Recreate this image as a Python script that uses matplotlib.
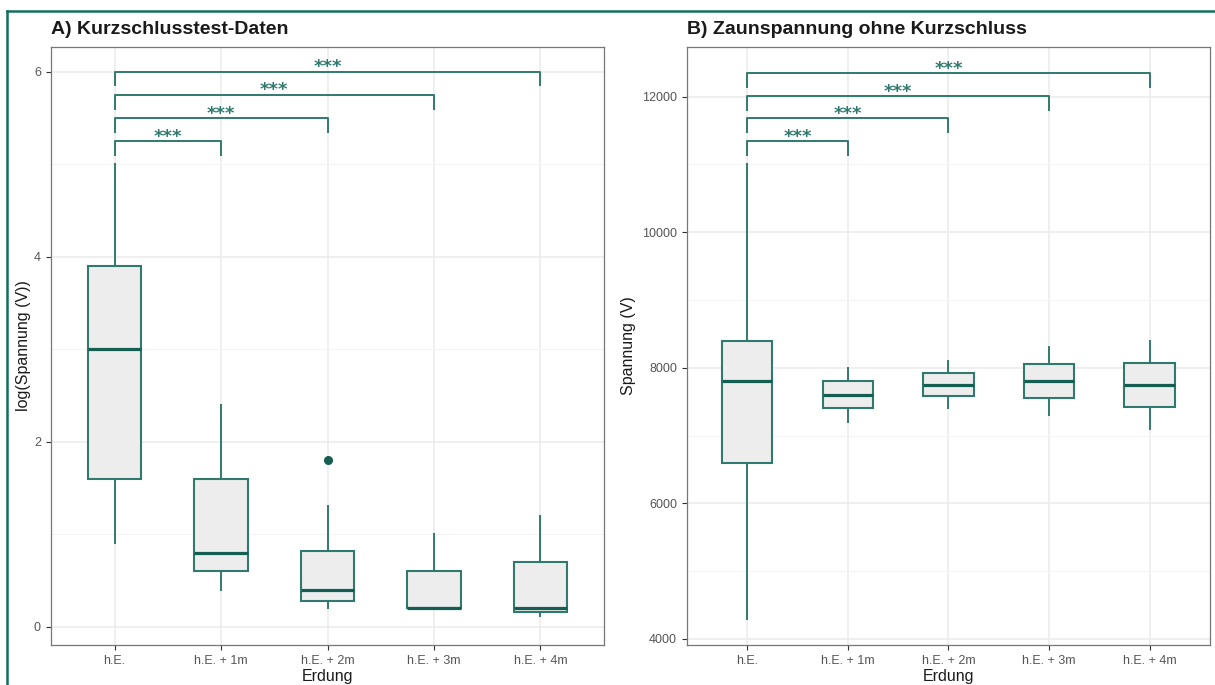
import matplotlib
matplotlib.use("Agg")
import matplotlib.pyplot as plt
from matplotlib.lines import Line2D

plt.rcParams['font.family'] = ['Liberation Sans', 'DejaVu Sans']

# Gruppen (Erdung)
gruppen = ["h.E.", "h.E. + 1m", "h.E. + 2m", "h.E. + 3m", "h.E. + 4m"]

# A) Kurzschlusstest, log(Spannung)
a_whislo = [0.9, 0.4, 0.2, 0.2, 0.11]
a_q1 = [1.6, 0.6, 0.28, 0.2, 0.155]
a_med = [3.0, 0.8, 0.4, 0.2, 0.2]
a_q3 = [3.9, 1.6, 0.82, 0.6, 0.7]
a_whishi = [5.0, 2.4, 1.3, 1.0, 1.2]
a_fliers = [[], [], [1.8], [], []]

# B) Zaunspannung ohne Kurzschluss
b_whislo = [4300, 7200, 7400, 7300, 7100]
b_q1 = [6600, 7400, 7580, 7550, 7425]
b_med = [7800, 7600, 7750, 7800, 7750]
b_q3 = [8400, 7800, 7925, 8050, 8075]
b_whishi = [11000, 8000, 8100, 8300, 8400]
b_fliers = [[], [], [], [], []]

# Signifikanz-Klammern: h.E. gegen jede andere Gruppe
vergleiche = [2, 3, 4, 5]
sig_labels = ["***", "***", "***", "***"]
a_klammer_y = [5.25, 5.5, 5.75, 6.0]
b_klammer_y = [11340, 11680, 12010, 12350]

teal = "#2f7a6c"
teal_dunkel = "#145e52"
rahmen = "#11705f"


def stats_liste(lo, q1, med, q3, hi, fl):
    return [dict(whislo=lo[i], q1=q1[i], med=med[i], q3=q3[i], whishi=hi[i],
                 fliers=fl[i]) for i in range(len(lo))]


def panel(ax, stats, klammer_y, tip, ylim, yticks, yminor, titel, ylabel):
    pos = list(range(1, len(gruppen) + 1))
    ax.bxp(stats, positions=pos, widths=0.5, patch_artist=True, showcaps=False,
           boxprops=dict(facecolor="#ededed", edgecolor=teal, linewidth=1.5),
           medianprops=dict(color=teal_dunkel, linewidth=2.3),
           whiskerprops=dict(color=teal, linewidth=1.4),
           flierprops=dict(marker="o", markersize=5.5, markerfacecolor=teal_dunkel,
                           markeredgecolor=teal_dunkel))
    for k, y, lab in zip(vergleiche, klammer_y, sig_labels):
        ax.plot([1, 1, k, k], [y - tip, y, y, y - tip], color=teal, lw=1.4,
                solid_capstyle="butt", zorder=4)
        ax.annotate(lab, xy=((1 + k) / 2, y), xytext=(0, -0.5),
                    textcoords="offset points", ha="center", va="baseline",
                    fontsize=13, fontweight="bold", color=teal,
                    family="DejaVu Sans")
    ax.set_xlim(0.4, 5.6)
    ax.set_ylim(*ylim)
    ax.set_xticks(pos)
    ax.set_xticklabels(gruppen)
    ax.set_yticks(yticks)
    ax.set_yticks(yminor, minor=True)
    ax.grid(True, which="major", color="#ebebeb", lw=1.1, zorder=0)
    ax.grid(True, which="minor", axis="y", color="#f4f4f4", lw=0.8, zorder=0)
    ax.set_axisbelow(True)
    ax.tick_params(which="major", length=3.5, width=0.8, color="#333333",
                   labelcolor="#555555", labelsize=9)
    ax.tick_params(which="minor", length=0)
    for s in ax.spines.values():
        s.set_color("#777777")
        s.set_linewidth(0.9)
    ax.set_xlabel("Erdung", fontsize=11.5, color="#1a1a1a", labelpad=2)
    ax.set_ylabel(ylabel, fontsize=11.5, color="#1a1a1a")
    ax.set_title(titel, loc="left", fontsize=14, fontweight="bold", pad=9,
                 color="#1a1a1a")


fig = plt.figure(figsize=(12.15, 6.85), dpi=100)
ax1 = fig.add_axes([0.0417, 0.0584, 0.4557, 0.8734])
ax2 = fig.add_axes([0.5652, 0.0584, 0.4307, 0.8734])

panel(ax1, stats_liste(a_whislo, a_q1, a_med, a_q3, a_whishi, a_fliers),
      a_klammer_y, 0.16, (-0.2, 6.27), [0, 2, 4, 6], [1, 3, 5],
      "A) Kurzschlusstest-Daten", "log(Spannung (V))")
panel(ax2, stats_liste(b_whislo, b_q1, b_med, b_q3, b_whishi, b_fliers),
      b_klammer_y, 215, (3911, 12737), [4000, 6000, 8000, 10000, 12000],
      [5000, 7000, 9000, 11000],
      "B) Zaunspannung ohne Kurzschluss", "Spannung (V)")
ax1.yaxis.labelpad = 2
ax2.yaxis.labelpad = 4

# Rahmen links und oben
fig.add_artist(Line2D([0.006, 0.006], [0, 0.984], color=rahmen, lw=1.8))
fig.add_artist(Line2D([0.006, 1.0], [0.984, 0.984], color=rahmen, lw=1.8))

fig.savefig("out.png", dpi=100)
